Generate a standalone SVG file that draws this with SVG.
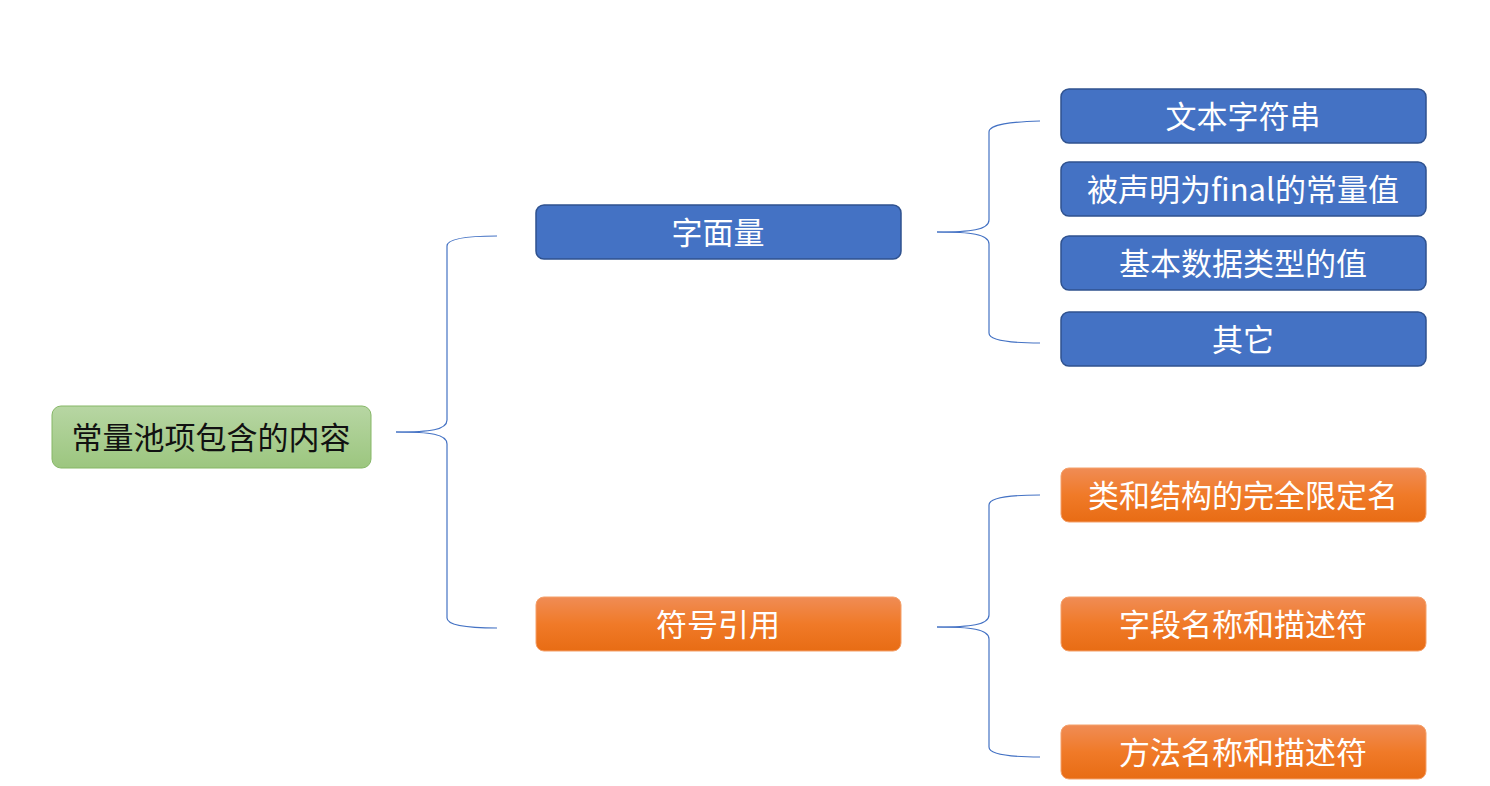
<svg xmlns="http://www.w3.org/2000/svg" width="1490" height="786" viewBox="0 0 1490 786">
<defs>
<linearGradient id="gGreen" x1="0" y1="0" x2="0" y2="1"><stop offset="0" stop-color="#B7D6A3"/><stop offset="1" stop-color="#9CC67F"/></linearGradient>
<linearGradient id="gOrange" x1="0" y1="0" x2="0" y2="1"><stop offset="0" stop-color="#F08C55"/><stop offset="0.5" stop-color="#F07A28"/><stop offset="1" stop-color="#E86C14"/></linearGradient>
</defs>
<style>
.root rect{fill:url(#gGreen);stroke:#86B767;stroke-width:1}
.blue rect{fill:#4472C4;stroke:#2F528F;stroke-width:1.5}
.orange rect{fill:url(#gOrange);stroke:#F4A06A;stroke-width:1}
text{font-family:"Noto Sans CJK SC","Microsoft YaHei",sans-serif;font-size:31px;text-anchor:middle;dominant-baseline:central}
.root text{fill:#111}
.blue text,.orange text{fill:#fff}
#connectors path{fill:none;stroke:#4472C4;stroke-width:1.2}
</style>
<rect width="1490" height="786" fill="#fff"/>
<g id="connectors">
<path d="M396 432 C430 432 447 430 447 420 L447 246 C447 238 470 236 497 236"/>
<path d="M396 432 C430 432 447 434 447 444 L447 618 C447 626 470 628 497 628"/>
<path d="M937 232 C970 232 989 230 989 220 L989 132 C989 124 1012 122 1040 121"/>
<path d="M937 232 C970 232 989 234 989 244 L989 333 C989 341 1012 343 1040 343"/>
<path d="M937 627 C970 627 989 625 989 615 L989 505 C989 497 1012 495 1040 495"/>
<path d="M937 627 C970 627 989 629 989 639 L989 747 C989 755 1012 757 1040 757"/>
</g>
<g id="n-root" class="root"><rect x="52" y="406" width="319" height="62" rx="9"/><text x="211" y="435">常量池项包含的内容</text></g>
<g id="n-literal" class="blue"><rect x="536" y="205" width="365" height="54" rx="8"/><text x="718" y="230">字面量</text></g>
<g id="n-str" class="blue"><rect x="1061" y="89" width="365" height="54" rx="8"/><text x="1243" y="114">文本字符串</text></g>
<g id="n-final" class="blue"><rect x="1061" y="162" width="365" height="54" rx="8"/><text x="1243" y="187">被声明为final的常量值</text></g>
<g id="n-prim" class="blue"><rect x="1061" y="236" width="365" height="54" rx="8"/><text x="1243" y="261">基本数据类型的值</text></g>
<g id="n-other" class="blue"><rect x="1061" y="312" width="365" height="54" rx="8"/><text x="1243" y="337">其它</text></g>
<g id="n-symref" class="orange"><rect x="536" y="597" width="365" height="54" rx="8"/><text x="718" y="622">符号引用</text></g>
<g id="n-class" class="orange"><rect x="1061" y="468" width="365" height="54" rx="8"/><text x="1243" y="493">类和结构的完全限定名</text></g>
<g id="n-field" class="orange"><rect x="1061" y="597" width="365" height="54" rx="8"/><text x="1243" y="622">字段名称和描述符</text></g>
<g id="n-method" class="orange"><rect x="1061" y="725" width="365" height="54" rx="8"/><text x="1243" y="750">方法名称和描述符</text></g>
</svg>
